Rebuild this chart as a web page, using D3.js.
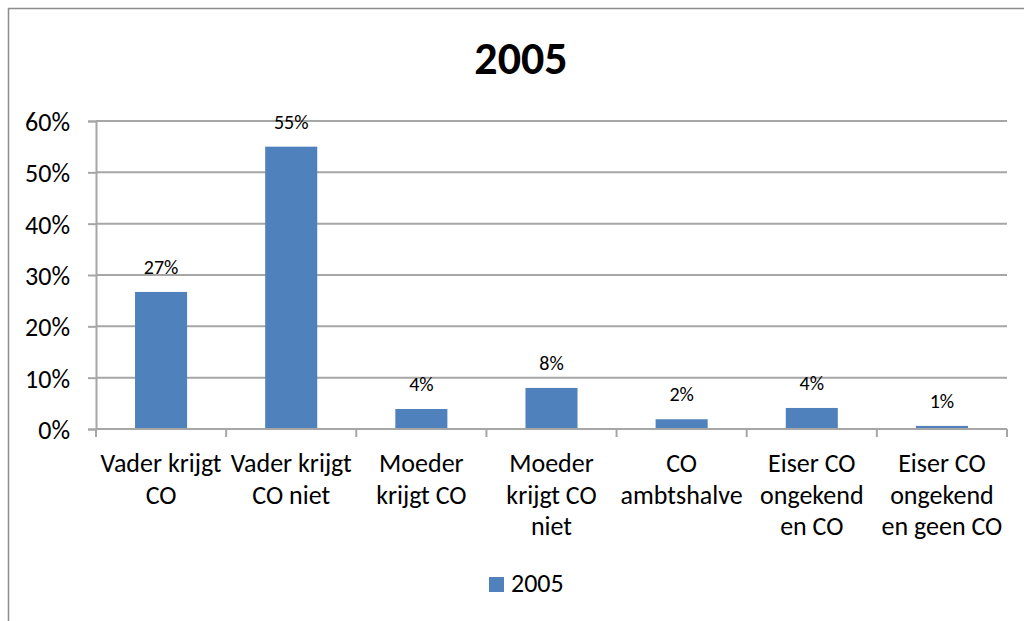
<!DOCTYPE html>
<html>
<head>
<meta charset="utf-8">
<script src="https://cdn.jsdelivr.net/npm/d3@7"></script>
<style>
  body { margin: 0; background: #fff; }
  svg text { font-family: Carlito, Calibri, Lato, sans-serif; fill: #000; }
</style>
</head>
<body>
<div id="chart"></div>
<script>
// data
var categories = [
  "Vader krijgt\nCO",
  "Vader krijgt\nCO niet",
  "Moeder\nkrijgt CO",
  "Moeder\nkrijgt CO\nniet",
  "CO\nambtshalve",
  "Eiser CO\nongekend\nen CO",
  "Eiser CO\nongekend\nen geen CO"
];
var values = [0.267, 0.55, 0.039, 0.08, 0.019, 0.041, 0.006];
var labels = ["27%", "55%", "4%", "8%", "2%", "4%", "1%"];
var yTicks = [0, 0.1, 0.2, 0.3, 0.4, 0.5, 0.6];
var seriesName = "2005";

var width = 1024, height = 621;
var plot = {left: 96, right: 1007, top: 121, bottom: 429};
var barColor = "#4f81bd";
var lineColor = "#a6a6a6";

var svg = d3.select("#chart").append("svg")
  .attr("width", width)
  .attr("height", height);

// chart border (right/bottom run off the picture)
svg.append("rect")
  .attr("x", 8.5).attr("y", 8.5)
  .attr("width", 1040).attr("height", 640)
  .attr("fill", "none")
  .attr("stroke", "#8c8c8c")
  .attr("stroke-width", 1.5);

// title
svg.append("text")
  .attr("x", 521).attr("y", 74)
  .attr("text-anchor", "middle")
  .style("font-size", "46px")
  .style("font-weight", "bold")
  .text(seriesName);

var x = d3.scaleBand()
  .domain(categories)
  .range([plot.left, plot.right])
  .paddingInner(0.6)
  .paddingOuter(0.3);

var y = d3.scaleLinear()
  .domain([0, 0.6])
  .range([plot.bottom, plot.top]);

// gridlines
svg.append("g")
  .selectAll("line")
  .data(yTicks.slice(1))
  .enter().append("line")
  .attr("x1", plot.left).attr("x2", plot.right)
  .attr("y1", function(d) { return y(d); })
  .attr("y2", function(d) { return y(d); })
  .attr("stroke", lineColor)
  .attr("stroke-width", 2);

// y axis
var yAxis = svg.append("g")
  .attr("transform", "translate(" + plot.left + ",0)")
  .call(d3.axisLeft(y).tickValues(yTicks).tickFormat(d3.format(".0%")).tickSize(8).tickPadding(18));
yAxis.attr("font-family", null).attr("font-size", null);
yAxis.select(".domain").attr("stroke", lineColor).attr("stroke-width", 2);
yAxis.selectAll(".tick line").attr("stroke", lineColor).attr("stroke-width", 2);
yAxis.selectAll(".tick text").style("font-size", "26px").attr("fill", "#000").attr("dy", "0.36em");

// bars
svg.append("g")
  .selectAll("rect")
  .data(values)
  .enter().append("rect")
  .attr("x", function(d, i) { return x(categories[i]); })
  .attr("width", x.bandwidth())
  .attr("y", function(d) { return y(d); })
  .attr("height", function(d) { return y(0) - y(d); })
  .attr("fill", barColor);

// data labels
svg.append("g")
  .selectAll("text")
  .data(values)
  .enter().append("text")
  .attr("x", function(d, i) { return x(categories[i]) + x.bandwidth() / 2; })
  .attr("y", function(d) { return y(d) - 18; })
  .attr("text-anchor", "middle")
  .style("font-size", "20px")
  .text(function(d, i) { return labels[i]; });

// x axis line and ticks at category boundaries
var step = x.step();
var bounds = d3.range(categories.length + 1).map(function(i) { return plot.left + i * step; });
svg.append("line")
  .attr("x1", plot.left).attr("x2", plot.right)
  .attr("y1", plot.bottom).attr("y2", plot.bottom)
  .attr("stroke", lineColor).attr("stroke-width", 2);
svg.append("g")
  .selectAll("line")
  .data(bounds)
  .enter().append("line")
  .attr("x1", function(d) { return d; }).attr("x2", function(d) { return d; })
  .attr("y1", plot.bottom).attr("y2", plot.bottom + 8)
  .attr("stroke", lineColor).attr("stroke-width", 2);

// category labels
var catG = svg.append("g")
  .selectAll("text")
  .data(categories)
  .enter().append("text")
  .attr("text-anchor", "middle")
  .style("font-size", "26px")
  .attr("transform", function(d) { return "translate(" + (x(d) + x.bandwidth() / 2) + ",0)"; });
catG.selectAll("tspan")
  .data(function(d) { return d.split("\n"); })
  .enter().append("tspan")
  .attr("x", 0)
  .attr("y", function(d, i) { return 472 + i * 31.5; })
  .text(function(d) { return d; });

// legend
svg.append("rect")
  .attr("x", 489).attr("y", 577)
  .attr("width", 15).attr("height", 15)
  .attr("fill", barColor);
svg.append("text")
  .attr("x", 511).attr("y", 592)
  .style("font-size", "26px")
  .text(seriesName);
</script>
</body>
</html>
